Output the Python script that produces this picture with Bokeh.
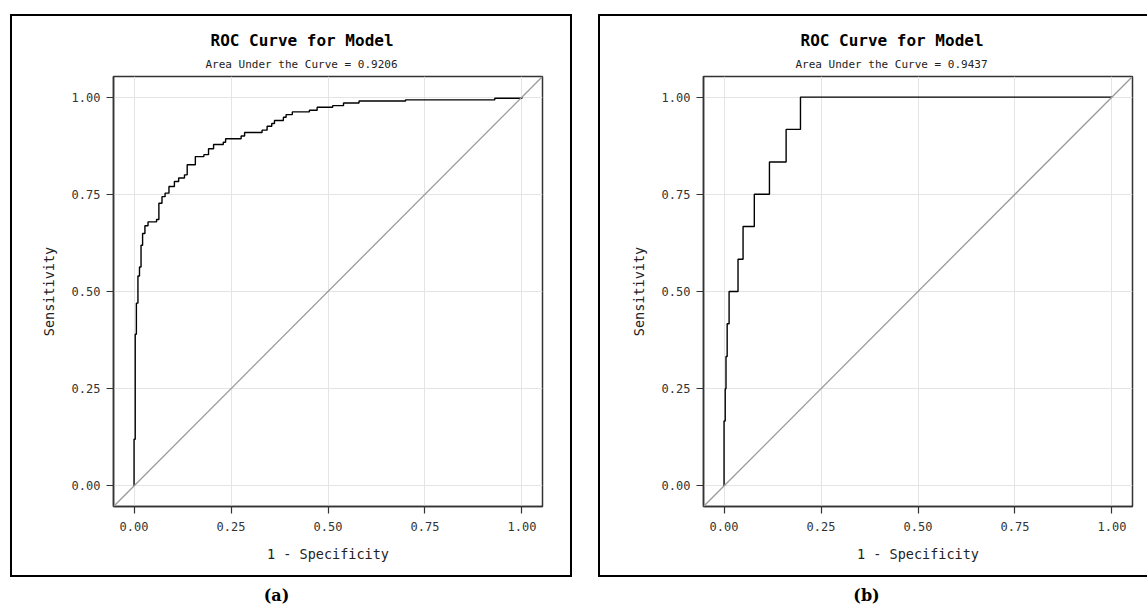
from bokeh.plotting import figure
from bokeh.layouts import row, column
from bokeh.models import Range1d, FixedTicker, NumeralTickFormatter, Title, Slope
from bokeh.core.properties import value
from bokeh.embed import file_html
from bokeh.resources import INLINE

# ---------------- data ----------------
ticks = [0.0, 0.25, 0.5, 0.75, 1.0]
title_text = "ROC Curve for Model"
auc_values = [0.9206, 0.9437]
captions = ["(a)", "(b)"]
x_label = "1 - Specificity"
y_label = "Sensitivity"

# panel (a): ROC curve vertices (1 - specificity, sensitivity)
fpr_a = [0.000, 0.000, 0.003, 0.003, 0.006, 0.006, 0.010, 0.010, 0.014, 0.014,
         0.018, 0.018, 0.022, 0.022, 0.028, 0.028, 0.036, 0.036, 0.058, 0.058,
         0.064, 0.064, 0.072, 0.072, 0.080, 0.080, 0.090, 0.090, 0.104, 0.104,
         0.115, 0.115, 0.130, 0.130, 0.137, 0.137, 0.158, 0.158, 0.180, 0.180,
         0.192, 0.192, 0.205, 0.205, 0.230, 0.230, 0.236, 0.236, 0.276, 0.276,
         0.285, 0.285, 0.330, 0.330, 0.343, 0.343, 0.355, 0.355, 0.362, 0.362,
         0.385, 0.385, 0.392, 0.392, 0.408, 0.408, 0.452, 0.452, 0.472, 0.472,
         0.512, 0.512, 0.540, 0.540, 0.580, 0.580, 0.700, 0.700, 0.930, 0.930,
         1.000, 1.000]
tpr_a = [0.000, 0.120, 0.120, 0.390, 0.390, 0.470, 0.470, 0.540, 0.540, 0.563,
         0.563, 0.619, 0.619, 0.649, 0.649, 0.669, 0.669, 0.679, 0.679, 0.685,
         0.685, 0.727, 0.727, 0.744, 0.744, 0.753, 0.753, 0.770, 0.770, 0.783,
         0.783, 0.792, 0.792, 0.800, 0.800, 0.826, 0.826, 0.847, 0.847, 0.852,
         0.852, 0.867, 0.867, 0.878, 0.878, 0.884, 0.884, 0.893, 0.893, 0.900,
         0.900, 0.909, 0.909, 0.915, 0.915, 0.925, 0.925, 0.932, 0.932, 0.940,
         0.940, 0.948, 0.948, 0.955, 0.955, 0.962, 0.962, 0.966, 0.966, 0.974,
         0.974, 0.978, 0.978, 0.985, 0.985, 0.990, 0.990, 0.993, 0.993, 0.997,
         0.997, 1.000]

# panel (b)
fpr_b = [0.000, 0.000, 0.003, 0.003, 0.005, 0.005, 0.008, 0.008, 0.013, 0.013,
         0.036, 0.036, 0.049, 0.049, 0.078, 0.078, 0.117, 0.117, 0.160, 0.160,
         0.197, 0.197, 1.000]
tpr_b = [0.000, 0.167, 0.167, 0.250, 0.250, 0.333, 0.333, 0.417, 0.417, 0.500,
         0.500, 0.583, 0.583, 0.667, 0.667, 0.750, 0.750, 0.833, 0.833, 0.917,
         0.917, 1.000, 1.000]

# ---------------- layout constants ----------------
R0, R1 = -0.053, 1.053
FIG_H = 559
TOP, BOTTOM = 60, 69
FW = 429
MONO = "DejaVu Sans Mono"
BORDER = "2px solid #000000"


def panel(fpr, tpr, auc, width, b_left):
    p = figure(width=width, height=FIG_H, x_range=Range1d(R0, R1), y_range=Range1d(R0, R1),
               output_backend="svg", toolbar_location=None,
               min_border_left=b_left, min_border_right=width - b_left - FW,
               min_border_top=TOP, min_border_bottom=BOTTOM)
    p.background_fill_color = "white"
    p.border_fill_color = "white"
    p.outline_line_color = "#333333"
    p.outline_line_width = 1.5

    for ax, lab in ((p.xaxis, x_label), (p.yaxis, y_label)):
        ax.ticker = FixedTicker(ticks=ticks)
        ax.formatter = NumeralTickFormatter(format="0.00")
        ax.axis_label = lab
        ax.axis_label_text_font = MONO
        ax.axis_label_text_font_size = "13.5px"
        ax.axis_label_text_font_style = "normal"
        ax.axis_label_text_color = "#222222"
        ax.major_label_text_font = MONO
        ax.major_label_text_font_size = "12px"
        ax.major_label_text_color = "#333333"
        ax.major_tick_out = 7
        ax.major_tick_in = 0
        ax.minor_tick_out = 0
        ax.minor_tick_in = 0
        ax.major_tick_line_color = "#333333"
        ax.major_tick_line_width = 1.2
        ax.axis_line_color = "#333333"
        ax.axis_line_width = 1.5
    p.xaxis.major_label_standoff = 8
    p.yaxis.major_label_standoff = 6
    p.xaxis.axis_label_standoff = 12
    p.yaxis.axis_label_standoff = 12

    for g in (p.xgrid, p.ygrid):
        g.ticker = FixedTicker(ticks=ticks)
        g.grid_line_color = "#e4e4e4"
        g.grid_line_width = 1

    p.add_layout(Slope(gradient=1, y_intercept=0, line_color="#9a9a9a", line_width=1.3))
    p.line(fpr, tpr, line_color="black", line_width=1.4)

    p.add_layout(Title(text="Area Under the Curve = %.4f" % auc, align="left", offset=92,
                       text_font=MONO, text_font_size="11px", text_font_style="normal",
                       text_color="#222222", standoff=12), "above")
    p.add_layout(Title(text=title_text, align="left", offset=97,
                       text_font=MONO, text_font_size="16px", text_font_style="bold",
                       text_color="black", standoff=0), "above")
    return p


pa = panel(fpr_a, tpr_a, auc_values[0], 558, 101)
pb = panel(fpr_b, tpr_b, auc_values[1], 547, 103)

wrap_a = column(pa, styles={"border": BORDER}, margin=(14, 0, 0, 10))
wrap_b = column(pb, styles={"border-left": BORDER, "border-top": BORDER, "border-bottom": BORDER},
                margin=(14, 0, 0, 26))

cap_x = [276, 866]
cap = figure(width=1147, height=28, x_range=Range1d(0, 1147), y_range=Range1d(0, 28),
             output_backend="svg", toolbar_location=None, min_border=0)
cap.axis.visible = False
cap.grid.visible = False
cap.outline_line_color = None
cap.text(x=cap_x, y=[10, 10], text=captions, text_align="center", text_baseline="middle",
         text_font=value("DejaVu Serif"), text_font_size="16px", text_font_style="bold",
         text_color="black")

layout = column(row(wrap_a, wrap_b), cap)
open("out.html", "w").write(file_html(layout, INLINE))
